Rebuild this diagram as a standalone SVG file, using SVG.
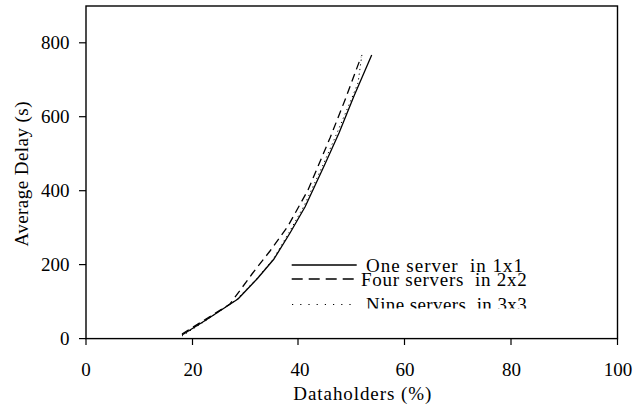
<svg xmlns="http://www.w3.org/2000/svg" width="633" height="409" viewBox="0 0 633 409">
  <defs>
    <clipPath id="legclip"><rect x="280" y="250" width="260" height="58.6"/></clipPath>
  </defs>
  <style>
    text { font-family: "Liberation Serif", "Times New Roman", serif; fill: #000; font-size: 19px; white-space: pre; }
    .frame { fill: none; stroke: #000; stroke-width: 1.4; }
    .tick { stroke: #000; stroke-width: 1.2; }
    .solid { fill: none; stroke: #000; stroke-width: 1.3; stroke-linejoin: round; }
    .dashed { fill: none; stroke: #000; stroke-width: 1.3; stroke-dasharray: 8 5; }
    .dotted { fill: none; stroke: #000; stroke-width: 1; stroke-dasharray: 1.2 3.5; }
    .ldash { fill: none; stroke: #000; stroke-width: 1.3; stroke-dasharray: 11 6; }
    .ldot { fill: none; stroke: #000; stroke-width: 1.2; stroke-dasharray: 1.2 7; }
  </style>
  <rect width="633" height="409" fill="#fff"/>

  <g id="plot-frame">
    <rect class="frame" x="86" y="6" width="531.5" height="332.6"/>
  </g>

  <g id="y-axis">
    <line class="tick" x1="79" y1="338.6" x2="86" y2="338.6"/>
    <line class="tick" x1="79" y1="264.6" x2="86" y2="264.6"/>
    <line class="tick" x1="79" y1="190.7" x2="86" y2="190.7"/>
    <line class="tick" x1="79" y1="116.7" x2="86" y2="116.7"/>
    <line class="tick" x1="79" y1="42.8" x2="86" y2="42.8"/>
    <text x="69.5" y="345" text-anchor="end">0</text>
    <text x="69.5" y="271" text-anchor="end">200</text>
    <text x="69.5" y="197" text-anchor="end">400</text>
    <text x="69.5" y="123" text-anchor="end">600</text>
    <text x="69.5" y="49" text-anchor="end">800</text>
    <text transform="translate(28,174) rotate(-90)" text-anchor="middle" textLength="145" lengthAdjust="spacing">Average Delay (s)</text>
  </g>

  <g id="x-axis">
    <line class="tick" x1="86" y1="338.6" x2="86" y2="345"/>
    <line class="tick" x1="192.5" y1="338.6" x2="192.5" y2="345"/>
    <line class="tick" x1="298" y1="338.6" x2="298" y2="345"/>
    <line class="tick" x1="404.5" y1="338.6" x2="404.5" y2="345"/>
    <line class="tick" x1="511" y1="338.6" x2="511" y2="345"/>
    <line class="tick" x1="617.5" y1="338.6" x2="617.5" y2="345"/>
    <text x="86" y="376" text-anchor="middle">0</text>
    <text x="193" y="376" text-anchor="middle">20</text>
    <text x="300" y="376" text-anchor="middle">40</text>
    <text x="405" y="376" text-anchor="middle">60</text>
    <text x="511.5" y="376" text-anchor="middle">80</text>
    <text x="618" y="376" text-anchor="middle">100</text>
    <text x="293.3" y="400" textLength="138" lengthAdjust="spacing">Dataholders (%)</text>
  </g>

  <g id="series">
    <polyline id="series-one-server" class="solid" points="182,335 206,320 238,299 257,279 274,259 290,233 305,207 325,164 339,133 354,96 371.7,55"/>
    <polyline id="series-four-servers" class="dashed" points="182,334 206,319 230,304 252,274 270,251 288,226 308,190 330,138 345,100 361,57"/>
    <polyline id="series-nine-servers" class="dotted" points="182,336 206,320.5 236,300 256,279.5 273,259.5 289,232.5 304,206 323,165 337,133 351,100 358,83 362,54"/>
  </g>

  <g id="legend">
    <line class="solid" x1="291.7" y1="265" x2="356.7" y2="265"/>
    <text x="366" y="272" font-size="20" textLength="157" lengthAdjust="spacing">One server  in 1x1</text>
    <line class="ldash" x1="291.7" y1="279" x2="354" y2="279"/>
    <text x="361" y="285.7" font-size="20" textLength="165.7" lengthAdjust="spacing">Four servers  in 2x2</text>
    <line class="ldot" x1="292" y1="304.5" x2="352" y2="304.5"/>
    <g clip-path="url(#legclip)">
      <text x="366" y="310.5" font-size="20" textLength="160.7" lengthAdjust="spacing">Nine servers  in 3x3</text>
    </g>
  </g>
</svg>
